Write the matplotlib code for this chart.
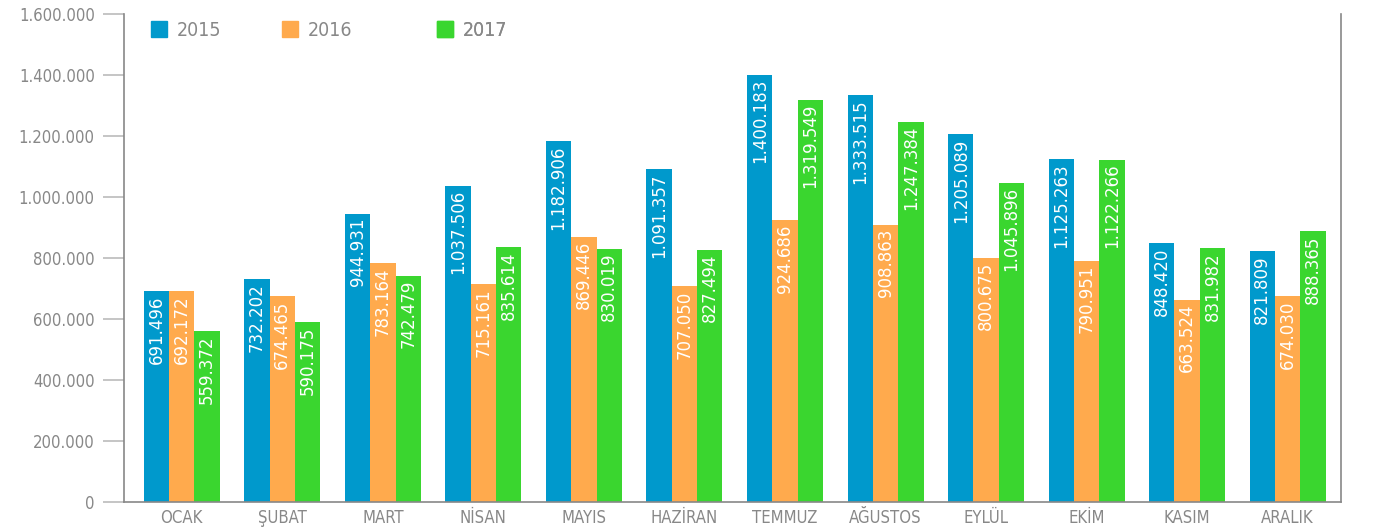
import matplotlib.pyplot as plt
import numpy as np
from matplotlib.ticker import FuncFormatter
from matplotlib.patches import Patch

months = ['OCAK', 'ŞUBAT', 'MART', 'NİSAN', 'MAYIS', 'HAZİRAN',
          'TEMMUZ', 'AĞUSTOS', 'EYLÜL', 'EKİM', 'KASIM', 'ARALIK']
years = ['2015', '2016', '2017']
v2015 = [691496, 732202, 944931, 1037506, 1182906, 1091357,
         1400183, 1333515, 1205089, 1125263, 848420, 821809]
v2016 = [692172, 674465, 783164, 715161, 869446, 707050,
         924686, 908863, 800675, 790951, 663524, 674030]
v2017 = [559372, 590175, 742479, 835614, 830019, 827494,
         1319549, 1247384, 1045896, 1122266, 831982, 888365]
colors = ['#0099cc', '#ffaa4d', '#3ad62f']

plt.rcParams['font.family'] = ['DejaVu Sans']
plt.rcParams['font.stretch'] = 'condensed'

def dotted(v, pos=None):
    return f'{int(v):,}'.replace(',', '.')

fig = plt.figure(figsize=(13.85, 5.31), dpi=100)
ax = fig.add_axes([0.0895, 0.0547, 0.8787, 0.9189])

x = np.arange(len(months))
w = 0.252
for i, (vals, c) in enumerate(zip([v2015, v2016, v2017], colors)):
    pos = x + (i - 1) * w
    ax.bar(pos, vals, width=w, color=c, zorder=2)
    for px, v in zip(pos, vals):
        ax.annotate(dotted(v), (px, v), xytext=(0, -3), textcoords='offset points',
                    rotation=90, ha='center', va='top', color='white',
                    fontsize=12, fontstretch='normal')

ax.set_xlim(-0.575, 11.53)
ax.set_ylim(0, 1600000)
ax.set_yticks(np.arange(0, 1600001, 200000))
ax.yaxis.set_major_formatter(FuncFormatter(dotted))
ax.set_xticks(x)
ax.set_xticklabels(months)

for s in ['left', 'bottom', 'right']:
    ax.spines[s].set_color('#888888')
    ax.spines[s].set_linewidth(1.2)
ax.spines['top'].set_visible(False)
ax.tick_params(axis='y', length=15, width=1.2, color='#bbbbbb',
               labelcolor='#888888', labelsize=12, pad=6)
ax.tick_params(axis='x', length=0, labelcolor='#888888', labelsize=12, pad=5)

# one legend box per year so the entries can sit at their own spots
legend_x = [0.022, 0.1295, 0.257]
for yr, c, lx in zip(years, colors, legend_x):
    lg = ax.legend(handles=[Patch(color=c, label=yr)], loc='center left',
                   bbox_to_anchor=(lx, 0.967), frameon=False, fontsize=14,
                   labelcolor='#888888', handlelength=0.85, handleheight=0.85,
                   handletextpad=0.5, borderaxespad=0, borderpad=0)
    ax.add_artist(lg)

fig.savefig('out.png', dpi=100)
